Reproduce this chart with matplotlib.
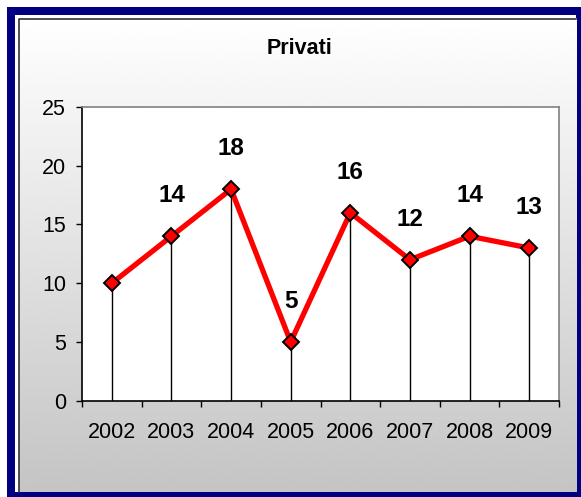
import matplotlib
matplotlib.use("Agg")
import matplotlib.pyplot as plt
import numpy as np
from matplotlib.patches import Rectangle

plt.rcParams['font.family'] = ['Liberation Sans', 'DejaVu Sans']

years = ["2002", "2003", "2004", "2005", "2006", "2007", "2008", "2009"]
values = [10, 14, 18, 5, 16, 12, 14, 13]
point_labels = [None, "14", "18", "5", "16", "12", "14", "13"]
yticks = [0, 5, 10, 15, 20, 25]
title = "Privati"

W, H = 581, 497
fig = plt.figure(figsize=(W / 100, H / 100), dpi=100)

# background frame and gradient
bg = fig.add_axes([0, 0, 1, 1], zorder=0)
bg.axis('off')
bg.add_patch(Rectangle((7, 7), W - 7, H - 7, facecolor='#000080', edgecolor='none', zorder=1))
bg.add_patch(Rectangle((15, 15), 561, 477, facecolor='white', edgecolor='none', zorder=1.5))
grad = np.linspace(1.0, 0.77, 256).reshape(-1, 1)
bg.imshow(grad, cmap='gray', vmin=0, vmax=1, extent=(18.5, 576, 492, 18.5),
          aspect='auto', interpolation='bilinear', zorder=2)
bg.plot([18.5, 18.5, 576], [492, 18.5, 18.5], color='#303030', lw=1.2, zorder=3)
bg.set_xlim(0, W)
bg.set_ylim(H, 0)

ax = fig.add_axes([82 / W, 1 - 400.7 / H, (559 - 82) / W, (400.7 - 107) / H], zorder=1)
ax.set_facecolor('white')
x = np.arange(len(years))
ax.set_xlim(-0.5, len(years) - 0.5)
ax.set_ylim(0, 25)

ax.vlines(x, 0, values, color='black', lw=1.0, zorder=2)
ax.plot(x, values, color='#FF0000', lw=3.8, zorder=3, solid_joinstyle='miter')
ax.plot(x, values, linestyle='none', marker='D', markersize=8.5, markerfacecolor='#FF0000',
        markeredgecolor='black', markeredgewidth=1.4, zorder=4)
for xi, v, lab in zip(x, values, point_labels):
    if lab is None:
        continue
    ax.annotate(lab, (xi, v), xytext=(0, 29), textcoords='offset points',
                ha='center', va='center', fontsize=17.5, fontweight='bold', color='black')

ax.set_yticks(yticks)
ax.set_yticklabels([str(t) for t in yticks], fontsize=15.5)
ax.tick_params(axis='y', direction='out', length=4.5, width=1, color='black', pad=7)
ax.set_xticks(x)
ax.set_xticklabels(years, fontsize=15.5)
ax.set_xticks(np.arange(-0.5, len(years)), minor=True)
ax.tick_params(axis='x', which='major', length=0, pad=15)
ax.tick_params(axis='x', which='minor', direction='out', length=4.5, width=1, color='black')

for s in ['left', 'bottom']:
    ax.spines[s].set_color('black')
    ax.spines[s].set_linewidth(1.2)
for s in ['top', 'right']:
    ax.spines[s].set_color('#808080')
    ax.spines[s].set_linewidth(1.2)

fig.text(300 / W, 1 - 49 / H, title, ha='center', va='center', fontsize=15.5, fontweight='bold')

fig.savefig("out.png", dpi=100)
